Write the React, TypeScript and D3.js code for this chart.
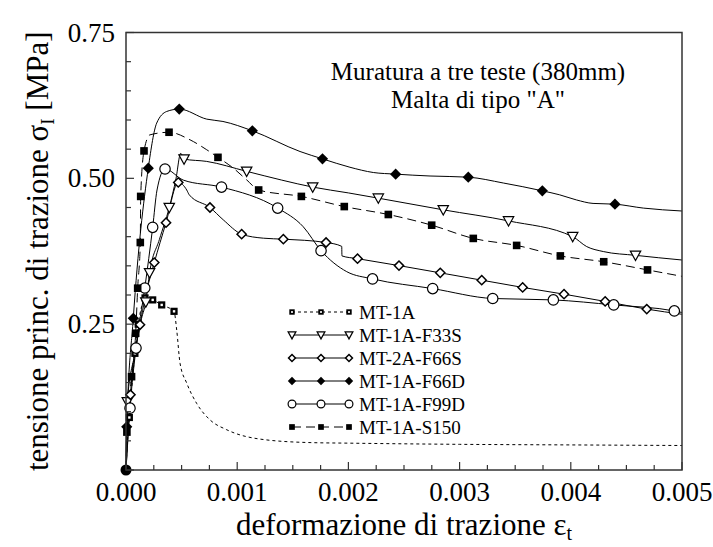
import React from "react";
import * as d3 from "d3";

// ---------- data ----------
const xTickValues = [0, 0.001, 0.002, 0.003, 0.004, 0.005];
const xTickLabels = ["0.000", "0.001", "0.002", "0.003", "0.004", "0.005"];
const yTickValues = [0.25, 0.5, 0.75];
const yTickLabels = ["0.25", "0.50", "0.75"];

const seriesNames = ["MT-1A", "MT-1A-F33S", "MT-2A-F66S", "MT-1A-F66D", "MT-1A-F99D", "MT-1A-S150"];

const mt1aLine: [number, number][] = [
  [0, 0], [0.00001, 0.04], [0.00003, 0.09], [0.00006, 0.16], [0.00008, 0.2], [0.00011, 0.25],
  [0.00014, 0.28], [0.000171, 0.295], [0.00024, 0.2916], [0.000321, 0.283], [0.000432, 0.272],
  [0.000456, 0.24], [0.000486, 0.183], [0.000546, 0.149], [0.000636, 0.114], [0.000755, 0.086],
  [0.000906, 0.069], [0.001205, 0.053], [0.001655, 0.047], [0.002014, 0.046], [0.003, 0.044],
  [0.004, 0.043], [0.005, 0.042],
];
const mt1aMarks: [number, number][] = [
  [0.00003, 0.09], [0.00008, 0.2], [0.00011, 0.25], [0.000171, 0.295], [0.00024, 0.2916],
  [0.000321, 0.283], [0.000432, 0.272],
];

const f33sLine: [number, number][] = [
  [0, 0], [0.0000117, 0.117], [0.00008, 0.2], [0.00014, 0.26], [0.000178, 0.288], [0.000212, 0.338],
  [0.0003, 0.395], [0.000389, 0.45], [0.00045, 0.5], [0.000492, 0.543], [0.000522, 0.533],
  [0.000726, 0.529], [0.001085, 0.512], [0.0014, 0.497], [0.001679, 0.485], [0.002, 0.475],
  [0.002269, 0.466], [0.002853, 0.446], [0.00344, 0.427], [0.004017, 0.4], [0.004143, 0.383],
  [0.004292, 0.3745], [0.004582, 0.368], [0.005, 0.36],
];
const f33sMarks: [number, number][] = [
  [0.0000117, 0.117], [0.000178, 0.288], [0.000212, 0.338], [0.000389, 0.45], [0.000522, 0.533],
  [0.001085, 0.512], [0.001679, 0.485], [0.002269, 0.466], [0.002853, 0.446], [0.00344, 0.427],
  [0.004017, 0.4], [0.004582, 0.368],
];

const f66sLine: [number, number][] = [
  [0, 0], [0.00004, 0.129], [0.000126, 0.249], [0.000189, 0.309], [0.0002545, 0.3556], [0.00036, 0.424],
  [0.00047, 0.493], [0.000546, 0.48], [0.000569, 0.4717], [0.000755, 0.45], [0.000875, 0.4288],
  [0.00104, 0.4043], [0.001235, 0.3974], [0.001415, 0.3957], [0.001799, 0.39], [0.00194, 0.3834],
  [0.001942, 0.367], [0.002082, 0.3623], [0.002455, 0.3504], [0.002826, 0.338], [0.003199, 0.3254],
  [0.003567, 0.313], [0.003939, 0.3014], [0.004309, 0.289], [0.004683, 0.2758], [0.005, 0.267],
];
const f66sMarks: [number, number][] = [
  [0.00004, 0.129], [0.000126, 0.249], [0.0002545, 0.3556], [0.00036, 0.424], [0.00047, 0.493],
  [0.000755, 0.45], [0.00104, 0.4043], [0.001415, 0.3957], [0.001799, 0.39], [0.002082, 0.3623],
  [0.002455, 0.3504], [0.002826, 0.338], [0.003199, 0.3254], [0.003567, 0.313], [0.003939, 0.3014],
  [0.004309, 0.289], [0.004683, 0.2758],
];

const f66dLine: [number, number][] = [
  [0, 0], [0.0000066, 0.074], [0.0000656, 0.26], [0.0002005, 0.5175], [0.000276, 0.5947],
  [0.000366, 0.6146], [0.000479, 0.6187], [0.000726, 0.6015], [0.000872, 0.5975], [0.001136, 0.5815],
  [0.001565, 0.546], [0.001767, 0.5334], [0.002014, 0.519], [0.002224, 0.51], [0.002425, 0.5072],
  [0.002734, 0.504], [0.003078, 0.502], [0.003393, 0.492], [0.003744, 0.4786], [0.0039, 0.4717],
  [0.00405, 0.463], [0.0042, 0.457], [0.004397, 0.4557], [0.004652, 0.449], [0.005, 0.444],
];
const f66dMarks: [number, number][] = [
  [0.0000066, 0.074], [0.0000656, 0.26], [0.0002005, 0.5175], [0.000479, 0.6187],
  [0.001136, 0.5815], [0.001767, 0.5334], [0.002425, 0.5072], [0.003078, 0.502], [0.003744, 0.4786],
  [0.004397, 0.4557],
];

const f99dLine: [number, number][] = [
  [0, 0], [0.000036, 0.106], [0.00009, 0.209], [0.000169, 0.312], [0.00024, 0.416], [0.000279, 0.48],
  [0.000351, 0.516], [0.000515, 0.497], [0.000859, 0.485], [0.001364, 0.449], [0.001594, 0.417],
  [0.001754, 0.376], [0.001985, 0.34], [0.002217, 0.3276], [0.002758, 0.311], [0.003298, 0.294],
  [0.003843, 0.2916], [0.004386, 0.283], [0.004931, 0.2727], [0.005, 0.27],
];
const f99dMarks: [number, number][] = [
  [0.000036, 0.106], [0.00009, 0.209], [0.000169, 0.312], [0.00024, 0.416], [0.000351, 0.516],
  [0.000859, 0.485], [0.001364, 0.449], [0.001754, 0.376], [0.002217, 0.3276], [0.002758, 0.311],
  [0.003298, 0.294], [0.003843, 0.2916], [0.004386, 0.283], [0.004931, 0.2727],
];

const s150Line: [number, number][] = [
  [0, 0], [0.000008, 0.065], [0.00005, 0.16], [0.000087, 0.2345], [0.000105, 0.3117], [0.0001286, 0.39],
  [0.000132, 0.469], [0.000162, 0.547], [0.000216, 0.5746], [0.000387, 0.579], [0.000576, 0.566],
  [0.000726, 0.549], [0.000827, 0.536], [0.000965, 0.5175], [0.001085, 0.4974], [0.001193, 0.48],
  [0.001577, 0.469], [0.001963, 0.4516], [0.002359, 0.438], [0.002749, 0.4197], [0.003123, 0.397],
  [0.003513, 0.385], [0.003906, 0.367], [0.004296, 0.357], [0.00469, 0.343], [0.005, 0.332],
];
const s150Marks: [number, number][] = [
  [0.000008, 0.065], [0.00005, 0.16], [0.000087, 0.2345], [0.000105, 0.3117], [0.0001286, 0.39],
  [0.000132, 0.469], [0.000162, 0.547], [0.000387, 0.579], [0.000827, 0.536], [0.001193, 0.48],
  [0.001577, 0.469], [0.001963, 0.4516], [0.002359, 0.438], [0.002749, 0.4197], [0.003123, 0.397],
  [0.003513, 0.385], [0.003906, 0.367], [0.004296, 0.357], [0.00469, 0.343],
];

// common starting point of all tests (drawn as a dot where all markers overlap)
const originPoint: [number, number] = [0, 0];

const lineData = [mt1aLine, f33sLine, f66sLine, f66dLine, f99dLine, s150Line];
const markData = [mt1aMarks, f33sMarks, f66sMarks, f66dMarks, f99dMarks, s150Marks];
const markerTypes = ["sqdot", "tri", "diamondOpen", "diamondFilled", "circle", "square"];
const dashes = ["3,3", "", "", "", "", "9,5"];

const titleLines = ["Muratura a tre teste (380mm)", 'Malta di tipo "A"'];

// ---------- layout ----------
const W = 713;
const H = 547;
const FONT = "Liberation Serif";
const X0 = 126, X1 = 682, Y0 = 470, Y1 = 32.5;
const txt = { fontFamily: FONT };

function Marker({ type, cx, cy, s = 1 }: { type: string; cx: number; cy: number; s?: number }) {
  if (type === "sqdot") {
    const a = 3.6 * s;
    return (
      <g>
        <rect x={cx - a} y={cy - a} width={2 * a} height={2 * a} fill="#000" />
        <rect x={cx - 1.2 * s} y={cy - 1.2 * s} width={2.4 * s} height={2.4 * s} fill="#fff" />
      </g>
    );
  }
  if (type === "square") {
    const a = 3.8 * s;
    return <rect x={cx - a} y={cy - a} width={2 * a} height={2 * a} fill="#000" />;
  }
  if (type === "tri") {
    const w = 5.2 * s, h = 4.2 * s;
    return (
      <path d={`M${cx - w},${cy - h}L${cx + w},${cy - h}L${cx},${cy + h + 1 * s}Z`}
        fill="#fff" stroke="#000" strokeWidth={1.2} />
    );
  }
  if (type === "diamondOpen") {
    const r = 4.6 * s;
    return (
      <path d={`M${cx},${cy - r}L${cx + r},${cy}L${cx},${cy + r}L${cx - r},${cy}Z`}
        fill="#fff" stroke="#000" strokeWidth={1.5} />
    );
  }
  if (type === "diamondFilled") {
    const r = 5.6 * s;
    return <path d={`M${cx},${cy - r}L${cx + r},${cy}L${cx},${cy + r}L${cx - r},${cy}Z`} fill="#000" />;
  }
  return <circle cx={cx} cy={cy} r={5.2 * s} fill="#fff" stroke="#000" strokeWidth={1.2} />;
}

export default function App() {
  const x = d3.scaleLinear().domain([0, 0.005]).range([X0, X1]);
  const y = d3.scaleLinear().domain([0, 0.75]).range([Y0, Y1]);
  const line = d3
    .line<[number, number]>()
    .x((d) => x(d[0]))
    .y((d) => y(d[1]))
    .curve(d3.curveMonotoneX);

  const xMinor = d3.range(0, 0.005 + 1e-9, 0.00025);
  const yMinor = d3.range(0, 0.75 + 1e-9, 0.05);

  const legX = [292, 321, 349];
  const legY0 = 312, legDy = 23;

  return (
    <svg width={W} height={H} style={{ position: "absolute", left: 0, top: 0, background: "#fff" }}>
      <rect x={0} y={0} width={W} height={H} fill="#fff" />
      {lineData.map((pts, i) => (
        <path key={"l" + i} d={line(pts) || ""} fill="none" stroke="#000" strokeWidth={1}
          strokeDasharray={dashes[i] || undefined} />
      ))}
      {markData.map((pts, i) => (
        <g key={"m" + i}>
          {pts.map((p, j) => (
            <Marker key={j} type={markerTypes[i]} cx={x(p[0])} cy={y(p[1])} />
          ))}
        </g>
      ))}
      <circle cx={x(originPoint[0])} cy={y(originPoint[1])} r={5.5} fill="#000" />
      <rect x={X0} y={Y1} width={X1 - X0} height={Y0 - Y1} fill="none" stroke="#333" strokeWidth={1.5} />
      {xMinor.map((v, i) => {
        const major = i % 4 === 0;
        return <line key={"xt" + i} x1={x(v)} x2={x(v)} y1={Y0} y2={Y0 - (major ? 8 : 5)} stroke="#333" strokeWidth={1.2} />;
      })}
      {yMinor.map((v, i) => {
        const major = i % 5 === 0;
        return <line key={"yt" + i} x1={X0} x2={X0 + (major ? 8 : 5)} y1={y(v)} y2={y(v)} stroke="#333" strokeWidth={1.2} />;
      })}
      {xTickValues.map((v, i) => (
        <text key={"xl" + i} x={x(v)} y={Y0 + 31} fontSize={27} textAnchor="middle" style={txt}>{xTickLabels[i]}</text>
      ))}
      {yTickValues.map((v, i) => (
        <text key={"yl" + i} x={115} y={y(v) + 9} fontSize={27} textAnchor="end" style={txt}>{yTickLabels[i]}</text>
      ))}
      <text x={(X0 + X1) / 2} y={535} fontSize={31} textAnchor="middle" style={txt}>
        deformazione di trazione ε<tspan fontSize={20} dy={5}>t</tspan>
      </text>
      <text transform={`translate(48,${(Y0 + Y1) / 2}) rotate(-90)`} fontSize={31} textAnchor="middle" style={txt}>
        tensione princ. di trazione σ<tspan fontSize={19} dy={6}>I</tspan><tspan dy={-6}> [MPa]</tspan>
      </text>
      {titleLines.map((t, i) => (
        <text key={"t" + i} x={478} y={80 + i * 28} fontSize={25} textAnchor="middle" style={txt}>{t}</text>
      ))}
      {seriesNames.map((name, i) => {
        const ly = legY0 + i * legDy;
        return (
          <g key={"lg" + i}>
            <line x1={legX[0]} x2={legX[2]} y1={ly} y2={ly} stroke="#000" strokeWidth={1}
              strokeDasharray={dashes[i] || undefined} />
            {legX.map((lx, k) => (
              <Marker key={k} type={markerTypes[i]} cx={lx} cy={ly} s={0.75} />
            ))}
            <text x={359} y={ly + 7} fontSize={19} style={txt}>{name}</text>
          </g>
        );
      })}
    </svg>
  );
}
